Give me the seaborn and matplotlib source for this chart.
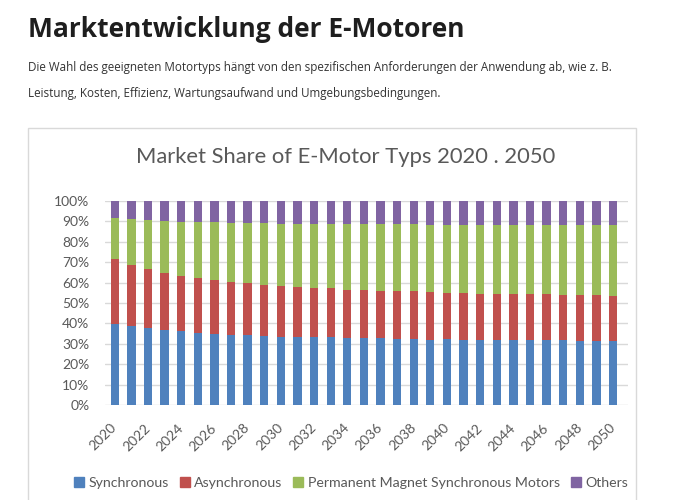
import matplotlib
matplotlib.use("Agg")
import matplotlib.pyplot as plt
import seaborn as sns
import pandas as pd
from matplotlib.patches import Rectangle, Patch

years = list(range(2020, 2051))
synchronous = [39.8, 38.7, 37.6, 36.6, 35.9, 35.3, 35.0, 34.5, 34.3, 34.0,
               33.5, 33.3, 33.3, 33.2, 32.8, 32.7, 32.7, 32.5, 32.4, 32.2,
               32.2, 32.0, 32.0, 31.9, 31.9, 31.9, 31.7, 31.7, 31.5, 31.5, 31.4]
asynchronous = [31.9, 30.1, 28.9, 28.1, 27.0, 26.8, 26.2, 25.9, 25.5, 24.9,
                24.9, 24.6, 24.4, 24.2, 23.7, 23.6, 23.4, 23.4, 23.6, 23.6,
                22.8, 22.8, 22.6, 22.6, 22.6, 22.8, 22.6, 22.4, 22.4, 22.3, 22.1]
pmsm = [20.0, 22.4, 24.2, 25.5, 26.5, 27.6, 28.5, 29.1, 29.8, 30.2,
        30.6, 31.1, 31.4, 31.7, 32.0, 32.4, 32.4, 32.7, 32.8, 33.0,
        33.3, 33.5, 33.7, 33.8, 33.7, 33.8, 33.8, 33.9, 34.1, 34.3, 34.5]
others = [8.3, 8.8, 9.3, 9.8, 10.1, 10.2, 10.4, 10.6, 10.7, 10.9,
          11.1, 11.1, 11.2, 11.2, 11.4, 11.4, 11.5, 11.5, 11.5, 11.7,
          11.7, 11.7, 11.7, 11.7, 11.9, 11.9, 11.9, 11.9, 11.9, 11.9, 11.9]
series_names = ["Synchronous", "Asynchronous",
                "Permanent Magnet Synchronous Motors", "Others"]
colors = ["#4F81BD", "#C0504D", "#9BBB59", "#8064A2"]
y_ticks = list(range(0, 101, 10))
tick_years = years[::2]

title = "Market Share of E-Motor Typs 2020 . 2050"
heading = "Marktentwicklung der E-Motoren"
para1 = ("Die Wahl des geeigneten Motortyps hängt von den spezifischen "
         "Anforderungen der Anwendung ab, wie z. B.")
para2 = "Leistung, Kosten, Effizienz, Wartungsaufwand und Umgebungsbedingungen."

sns.set_theme(style="white")
plt.rcParams['font.family'] = ['Lato', 'DejaVu Sans']

df = pd.DataFrame({"Year": [str(y) for y in years]})
values = [synchronous, asynchronous, pmsm, others]
raw = pd.DataFrame({n: v for n, v in zip(series_names, values)})
totals = raw.div(raw.sum(axis=1), axis=0) * 100
cum = totals.cumsum(axis=1)

fig = plt.figure(figsize=(6.76, 5), dpi=100)
fig.patch.set_facecolor("white")
ax = fig.add_axes([0.155, 0.19, 0.774, 0.408])

for name, color in reversed(list(zip(series_names, colors))):
    d = pd.DataFrame({"Year": df["Year"], "v": cum[name].values})
    sns.barplot(data=d, x="Year", y="v", color=color, saturation=1,
                width=0.5, ax=ax, linewidth=0)

ax.set_ylim(0, 100)
ax.set_xlim(-0.6, 30.9)
ax.set_yticks(y_ticks)
ax.set_yticklabels([f"{t}%" for t in y_ticks], fontsize=10, color="#595959")
ax.set_xticks([years.index(y) for y in tick_years])
ax.set_xticklabels([str(y) for y in tick_years], rotation=45, ha="right",
                   va="center", rotation_mode="anchor", fontsize=10,
                   color="#595959")
ax.tick_params(axis="x", pad=15, length=0)
ax.tick_params(axis="y", pad=11, length=0)
ax.set_xlabel("")
ax.set_ylabel("")
ax.grid(axis="y", color="#d9d9d9", linewidth=1)
ax.set_axisbelow(True)
for s in ax.spines.values():
    s.set_visible(False)

handles = [Patch(facecolor=c, edgecolor=c) for c in colors]
fig.legend(handles, series_names, loc="center", bbox_to_anchor=(0.519, 0.034),
           ncol=4, frameon=False, fontsize=10.2, handlelength=0.7,
           handleheight=0.7, handletextpad=0.3, columnspacing=0.8,
           labelcolor="#595959")

fig.add_artist(Rectangle((28 / 676, -0.01), (636 - 28) / 676, 1 - 128 / 500 + 0.01,
                         transform=fig.transFigure, fill=False,
                         edgecolor="#d9d9d9", linewidth=1))

fig.text(346 / 676, 1 - 157 / 500, title, ha="center", va="center",
         fontsize=15.8, color="#595959")
fig.text(28 / 676, 1 - 37 / 500, heading, ha="left", va="baseline",
         fontsize=19, fontweight="bold", color="#1e1e1e",
         family=["Open Sans", "DejaVu Sans"])
fig.text(28 / 676, 1 - 71.5 / 500, para1, ha="left", va="baseline",
         fontsize=8.4, color="#333333", family=["Open Sans", "DejaVu Sans"])
fig.text(28 / 676, 1 - 96.5 / 500, para2, ha="left", va="baseline",
         fontsize=8.4, color="#333333", family=["Open Sans", "DejaVu Sans"])

fig.savefig("out.png", dpi=100, facecolor="white")
